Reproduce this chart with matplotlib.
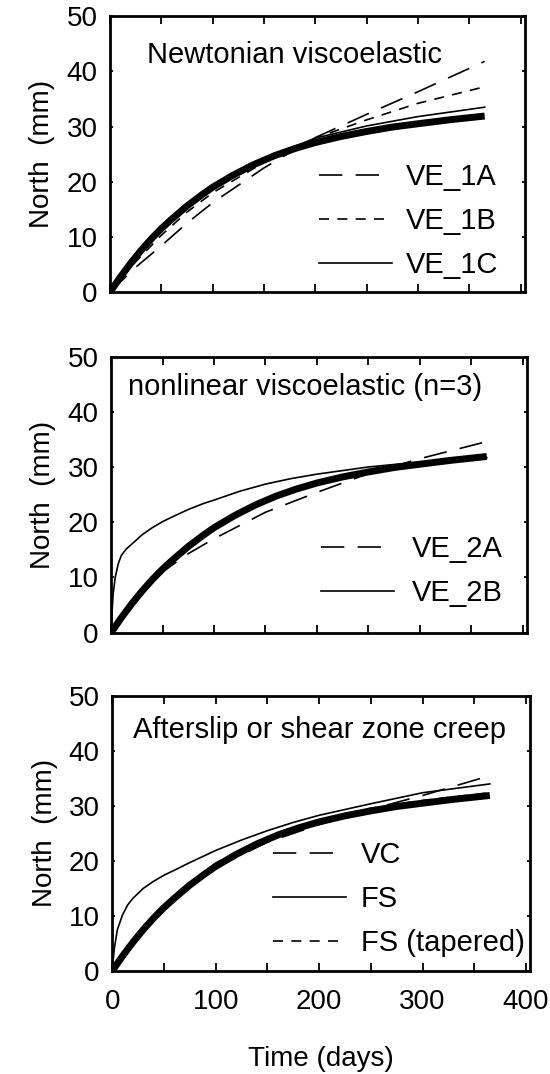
import numpy as np
import matplotlib
matplotlib.use('Agg')
import matplotlib.pyplot as plt
from matplotlib.ticker import MultipleLocator

plt.rcParams['font.family'] = ['Liberation Sans', 'DejaVu Sans']

# observed north displacement (thick line), same in every panel
t_obs = [0, 10, 20, 30, 40, 50, 60, 75, 90, 100, 120, 140, 160, 180, 200,
         225, 250, 275, 300, 330, 365]
obs = [0, 2.7, 5.2, 7.5, 9.6, 11.5, 13.2, 15.6, 17.7, 19.0, 21.2, 23.1, 24.7,
       26.0, 27.1, 28.2, 29.1, 29.9, 30.5, 31.2, 31.9]

# panel 1 - newtonian viscoelastic
t_ve1 = [0, 25, 50, 75, 100, 150, 200, 250, 300, 365]
ve_1a = [0, 4.5, 8.4, 12.5, 16.2, 22.5, 28.0, 32.2, 36.3, 41.8]
ve_1b = [0, 5.5, 10.3, 14.5, 18.0, 23.5, 27.9, 31.2, 34.2, 37.2]
ve_1c = [0, 6.3, 11.2, 15.8, 19.2, 24.2, 27.9, 30.1, 31.8, 33.5]

# panel 2 - nonlinear viscoelastic
t_ve2a = [0, 25, 50, 75, 100, 150, 200, 250, 300, 365]
ve_2a = [0, 6.0, 11.0, 14.3, 17.0, 21.8, 25.4, 28.8, 31.5, 34.6]
t_ve2b = [0, 1, 2, 4, 7, 10, 15, 20, 30, 40, 50, 60, 75, 90, 100, 125, 150,
          175, 200, 250, 300, 365]
ve_2b = [0, 4.0, 7.0, 10.0, 12.5, 14.0, 15.2, 16.0, 17.7, 19.0, 20.1, 21.0,
         22.3, 23.4, 24.0, 25.6, 26.9, 27.9, 28.7, 30.0, 30.9, 31.7]

# panel 3 - afterslip / shear zone creep
t_vc = [0, 25, 50, 75, 100, 150, 200, 250, 300, 365]
vc = [0, 6.3, 11.2, 15.2, 18.8, 23.4, 26.6, 29.4, 31.9, 35.5]
t_fs = [0, 2, 5, 10, 15, 20, 30, 40, 50, 60, 75, 100, 125, 150, 175, 200,
        250, 300, 365]
fs = [0, 4.0, 7.5, 10.2, 12.0, 13.2, 15.0, 16.3, 17.4, 18.3, 19.7, 21.9, 23.8,
      25.5, 27.0, 28.3, 30.4, 32.4, 34.0]
t_fst = [0, 25, 50, 75, 100, 150, 200, 250, 300, 365]
fs_tap = [0, 6.8, 12.0, 16.0, 19.6, 24.3, 27.4, 29.6, 31.0, 32.4]

FS = 20
TXT = 21
LEG = 21
long_dash = (0, (14, 8))
short_dash = (0, (6, 5))

fig = plt.figure(figsize=(5.5, 10.74), dpi=100)
ax1 = fig.add_axes([0.200, 0.728, 0.754, 0.257])
ax2 = fig.add_axes([0.202, 0.411, 0.756, 0.257])
ax3 = fig.add_axes([0.204, 0.096, 0.760, 0.256])


def style(ax, labels):
    ax.set_xlim(0, 404)
    ax.set_ylim(0, 50)
    ax.xaxis.set_major_locator(MultipleLocator(100))
    ax.xaxis.set_minor_locator(MultipleLocator(50))
    ax.yaxis.set_major_locator(MultipleLocator(10))
    ax.tick_params(axis='x', which='both', direction='in', top=True, length=6,
                   width=1.3, labelsize=FS, pad=13)
    ax.tick_params(axis='y', direction='in', right=True, length=2.5, width=1.3,
                   labelsize=FS, pad=9)
    if not labels:
        ax.tick_params(axis='x', labelbottom=False)
    for s in ax.spines.values():
        s.set_linewidth(2)
    ax.set_ylabel('North  (mm)', fontsize=FS, labelpad=8)


def legend(ax, x, y, pad):
    ax.legend(loc='center left', bbox_to_anchor=(x, y), frameon=False,
              fontsize=LEG, handlelength=2.5, handletextpad=pad,
              labelspacing=0.55, borderpad=0, borderaxespad=0)


ax1.plot(t_obs, obs, color='black', lw=5, solid_capstyle='butt')
ax1.plot(t_ve1, ve_1a, color='black', lw=1.2, ls=long_dash, label='VE_1A')
ax1.plot(t_ve1, ve_1b, color='black', lw=1.2, ls=short_dash, label='VE_1B')
ax1.plot(t_ve1, ve_1c, color='black', lw=1.2, label='VE_1C')
style(ax1, False)
ax1.text(180, 43, 'Newtonian viscoelastic', fontsize=TXT, ha='center', va='center')
legend(ax1, 0.505, 0.258, 0.45)

ax2.plot(t_obs, obs, color='black', lw=5, solid_capstyle='butt')
ax2.plot(t_ve2a, ve_2a, color='black', lw=1.2, ls=long_dash, label='VE_2A')
ax2.plot(t_ve2b, ve_2b, color='black', lw=1.2, label='VE_2B')
style(ax2, False)
ax2.text(188, 44.4, 'nonlinear viscoelastic (n=3)', fontsize=TXT, ha='center', va='center')
legend(ax2, 0.505, 0.222, 0.6)

ax3.plot(t_obs, obs, color='black', lw=5, solid_capstyle='butt')
ax3.plot(t_vc, vc, color='black', lw=1.2, ls=long_dash, label='VC')
ax3.plot(t_fs, fs, color='black', lw=1.2, label='FS')
ax3.plot(t_fst, fs_tap, color='black', lw=1.2, ls=short_dash, label='FS (tapered)')
style(ax3, True)
ax3.text(200, 43.8, 'Afterslip or shear zone creep', fontsize=TXT, ha='center', va='center')
legend(ax3, 0.385, 0.262, 0.5)
ax3.set_xlabel('Time (days)', fontsize=FS, labelpad=22)

fig.savefig('out.png', dpi=100)
